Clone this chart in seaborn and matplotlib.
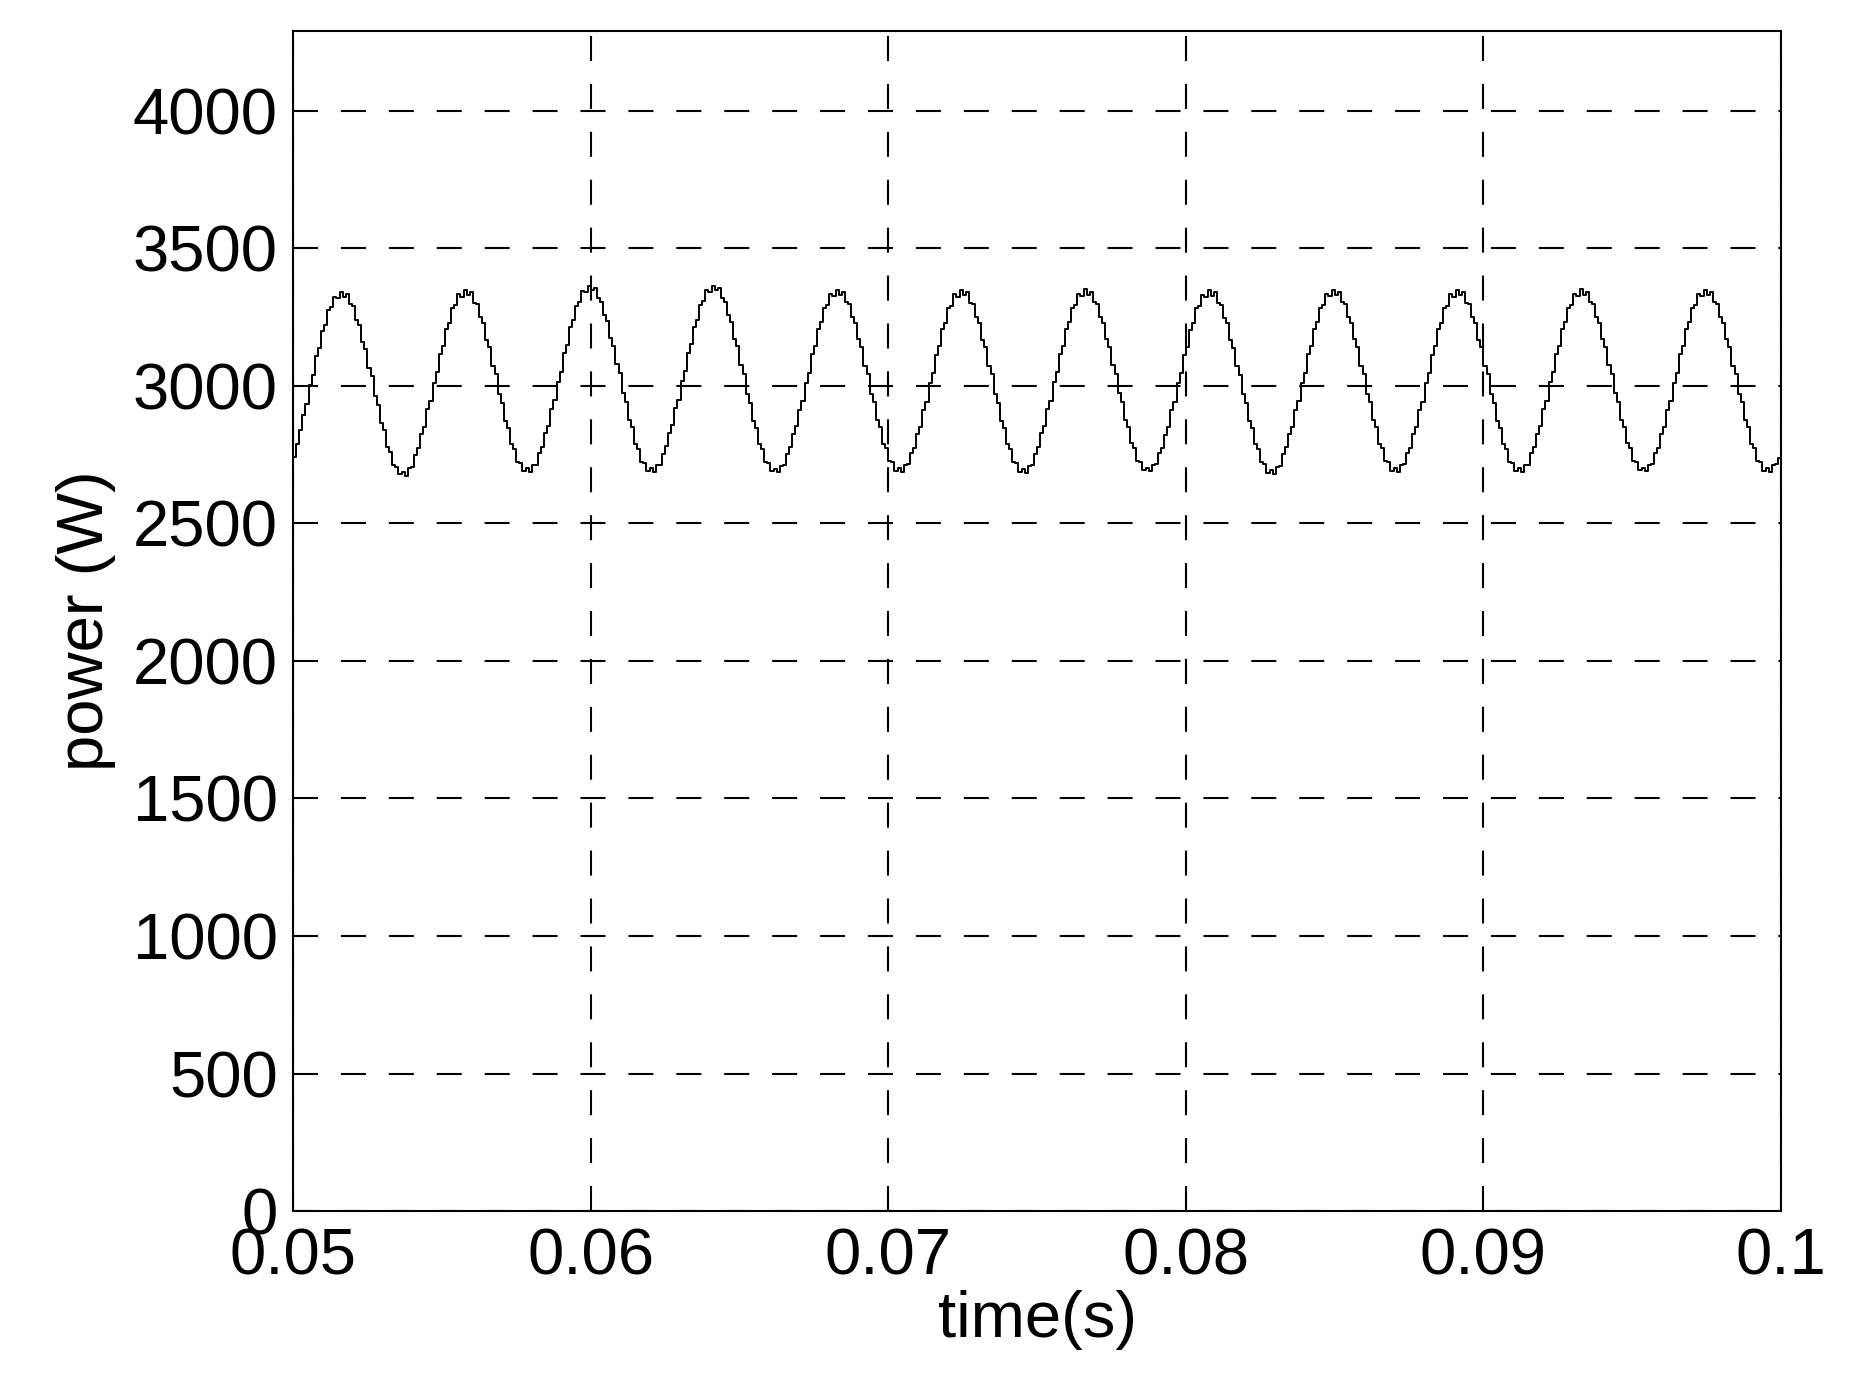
import numpy as np
import matplotlib
matplotlib.use("Agg")
import matplotlib.pyplot as plt
import seaborn as sns

# power samples (W), one row per 240 Hz cycle, 40 samples per cycle
power_cycles = [
    [2742, 2790, 2838, 2893, 2936, 3004, 3041, 3108, 3139, 3200, 3222, 3276, 3287, 3325, 3318, 3340, 3322, 3333, 3297, 3290,
     3241, 3222, 3160, 3134, 3066, 3036, 2963, 2931, 2864, 2838, 2778, 2760, 2712, 2706, 2680, 2688, 2674, 2700, 2706, 2748],
    [2776, 2826, 2852, 2915, 2944, 3012, 3049, 3115, 3145, 3207, 3230, 3283, 3293, 3333, 3325, 3350, 3330, 3341, 3303, 3296,
     3249, 3228, 3168, 3140, 3073, 3042, 2971, 2939, 2874, 2848, 2789, 2772, 2725, 2721, 2690, 2701, 2686, 2712, 2714, 2755],
    [2779, 2828, 2856, 2917, 2948, 3015, 3052, 3120, 3150, 3214, 3238, 3292, 3305, 3346, 3340, 3362, 3348, 3355, 3318, 3306,
     3258, 3236, 3175, 3146, 3078, 3046, 2974, 2941, 2876, 2849, 2790, 2772, 2724, 2720, 2692, 2700, 2688, 2711, 2713, 2754],
    [2780, 2829, 2857, 2918, 2949, 3017, 3053, 3121, 3151, 3215, 3240, 3294, 3307, 3349, 3342, 3365, 3350, 3356, 3320, 3305,
     3256, 3234, 3172, 3144, 3075, 3044, 2972, 2939, 2874, 2848, 2788, 2770, 2722, 2718, 2690, 2699, 2686, 2710, 2712, 2753],
    [2777, 2826, 2853, 2914, 2944, 3012, 3048, 3115, 3145, 3207, 3231, 3284, 3293, 3334, 3326, 3350, 3330, 3342, 3304, 3297,
     3250, 3229, 3169, 3141, 3074, 3043, 2972, 2940, 2875, 2849, 2790, 2773, 2726, 2722, 2692, 2702, 2688, 2713, 2715, 2756],
    [2776, 2824, 2851, 2913, 2942, 3011, 3047, 3114, 3144, 3206, 3230, 3283, 3292, 3333, 3325, 3349, 3329, 3341, 3303, 3296,
     3249, 3228, 3168, 3140, 3073, 3042, 2971, 2939, 2874, 2848, 2789, 2771, 2724, 2720, 2688, 2698, 2684, 2710, 2713, 2754],
    [2778, 2827, 2854, 2915, 2945, 3013, 3049, 3116, 3146, 3208, 3232, 3285, 3294, 3335, 3327, 3351, 3331, 3343, 3305, 3298,
     3251, 3230, 3170, 3142, 3075, 3044, 2973, 2941, 2876, 2850, 2791, 2774, 2727, 2723, 2693, 2703, 2689, 2714, 2716, 2757],
    [2775, 2823, 2850, 2912, 2942, 3010, 3046, 3113, 3143, 3205, 3229, 3282, 3291, 3332, 3324, 3348, 3328, 3340, 3302, 3295,
     3248, 3227, 3167, 3139, 3072, 3041, 2970, 2938, 2873, 2847, 2788, 2770, 2722, 2717, 2684, 2694, 2680, 2706, 2710, 2752],
    [2777, 2825, 2852, 2914, 2944, 3012, 3048, 3115, 3145, 3207, 3231, 3284, 3293, 3334, 3326, 3350, 3330, 3342, 3304, 3297,
     3250, 3229, 3169, 3141, 3074, 3043, 2972, 2940, 2875, 2849, 2790, 2773, 2726, 2722, 2692, 2702, 2688, 2713, 2715, 2756],
    [2776, 2824, 2851, 2913, 2943, 3011, 3047, 3114, 3144, 3206, 3230, 3283, 3292, 3333, 3325, 3349, 3329, 3341, 3303, 3296,
     3249, 3228, 3168, 3140, 3073, 3042, 2971, 2939, 2874, 2848, 2789, 2772, 2725, 2721, 2691, 2701, 2687, 2712, 2714, 2755],
    [2778, 2826, 2853, 2915, 2945, 3013, 3049, 3116, 3146, 3208, 3232, 3285, 3294, 3335, 3327, 3351, 3331, 3343, 3305, 3298,
     3251, 3230, 3170, 3142, 3075, 3044, 2973, 2941, 2876, 2850, 2791, 2774, 2727, 2723, 2693, 2703, 2689, 2714, 2716, 2757],
    [2776, 2825, 2852, 2914, 2944, 3012, 3048, 3115, 3145, 3207, 3231, 3284, 3293, 3334, 3326, 3350, 3330, 3342, 3304, 3297,
     3250, 3229, 3169, 3141, 3074, 3043, 2972, 2940, 2875, 2849, 2790, 2773, 2726, 2722, 2692, 2702, 2688, 2713, 2715, 2738],
]
power_end = [2728]

t_start, t_end = 0.05, 0.1
x_ticks = [0.05, 0.06, 0.07, 0.08, 0.09, 0.1]
x_ticklabels = ["0.05", "0.06", "0.07", "0.08", "0.09", "0.1"]
y_ticks = [0, 500, 1000, 1500, 2000, 2500, 3000, 3500, 4000]

power = np.concatenate([np.ravel(power_cycles), power_end])
time = np.linspace(t_start, t_end, len(power))

sns.set_style("white")
plt.rcParams["font.family"] = ["Liberation Sans", "DejaVu Sans"]

fig = plt.figure(figsize=(18.62, 13.82), dpi=100)
ax = fig.add_axes([0.1574, 0.1237, 0.7991, 0.8538])

sns.lineplot(x=time, y=power, color="black", linewidth=1.4, drawstyle="steps-post",
             estimator=None, sort=False, ax=ax)

ax.set_xlim(t_start, t_end)
ax.set_ylim(0, 4290)
ax.set_xticks(x_ticks)
ax.set_xticklabels(x_ticklabels)
ax.set_yticks(y_ticks)
ax.grid(True, color="black", linestyle=(0, (12, 11)), linewidth=1.5)
ax.tick_params(axis="both", labelsize=47, length=0, colors="black", labelcolor="black")
ax.tick_params(axis="y", pad=11)
ax.tick_params(axis="x", pad=12)
for s in ax.spines.values():
    s.set_color("black")
    s.set_linewidth(1.5)

ax.set_xlabel("time(s)", fontsize=47, labelpad=2, color="black")
ax.set_ylabel("power (W)", fontsize=47, labelpad=12, color="black")

fig.savefig("out.png", dpi=100, facecolor="white")
